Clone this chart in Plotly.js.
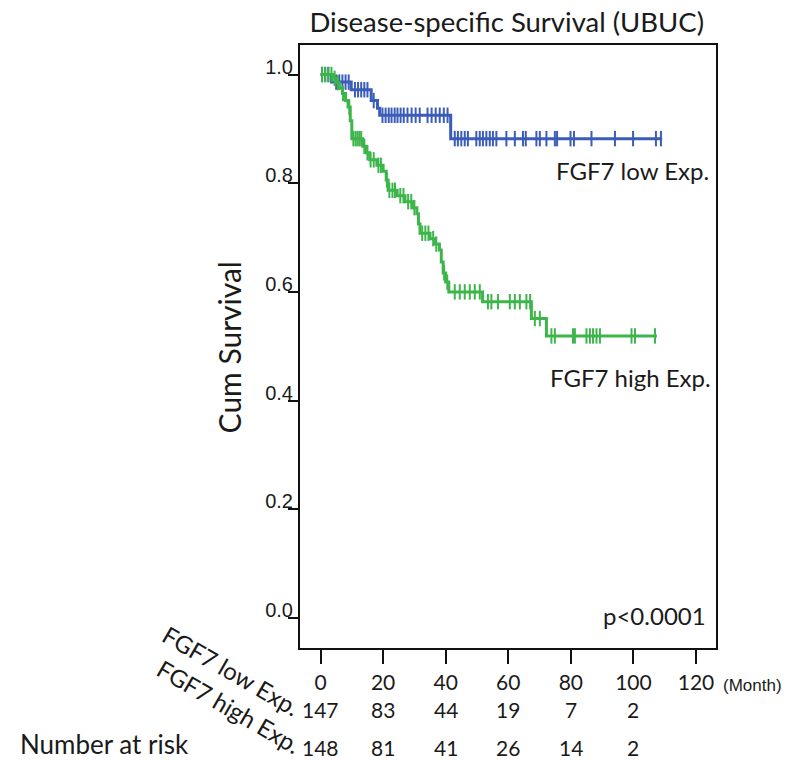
<!DOCTYPE html>
<html>
<head>
<meta charset="utf-8">
<script src="https://cdn.plot.ly/plotly-3.0.1.min.js"></script>
<style>html,body{margin:0;padding:0;background:#fff;}#chart{width:796px;height:761px;}</style>
</head>
<body>
<div id="chart"></div>
<script>
// ---- Data ----
const lowTimes = [0, 3.5, 9.8, 16.2, 18.2, 18.9, 41.6];
const lowSurv  = [1.0, 0.986, 0.972, 0.952, 0.938, 0.925, 0.882];
const lowEnd = 109.2;
const lowCensor = [0.5, 1.5, 2.5, 5, 6, 7, 8, 9, 11, 12, 13, 14, 15, 17,
  19.8, 20.8, 21.8, 22.7, 23.7, 24.6, 25.6, 26.6, 27.8, 29.1, 30.4, 31.7, 34.2, 35.5, 36.8, 38.1, 39.4, 40.6,
  42.9, 43.9, 45.0, 46.1, 47.1, 49.8, 50.9, 51.9, 53.0, 54.1, 55.1, 56.2, 59.4, 62.1, 64.7, 65.6,
  69.0, 70.1, 72.2, 74.9, 75.6, 79.9, 81.0, 86.6, 94.1, 99.9, 107.2, 108.8];

const highTimes = [0, 4, 5, 6, 7, 8, 8.8, 9.5, 10, 13.5, 14.5, 15.7, 18, 20, 21, 21.6, 24.5, 27, 29.5, 30.8, 31.3, 31.8, 35, 36.5, 38, 38.6, 39.2, 40, 41, 51.8, 67.4, 72.2];
const highSurv  = [1.0, 0.993, 0.985, 0.975, 0.965, 0.952, 0.94, 0.915, 0.882, 0.868, 0.856, 0.843, 0.833, 0.822, 0.806, 0.787, 0.777, 0.766, 0.755, 0.744, 0.725, 0.708, 0.698, 0.688, 0.677, 0.655, 0.635, 0.618, 0.600, 0.582, 0.551, 0.519];
const highEnd = 107.5;
const highCensor = [0.5, 1.5, 2.5, 3.5, 4.5, 5.5, 7.2, 9.2, 10.5, 11.2, 11.8, 12.4, 13, 14, 15, 16, 17, 18.5, 19.3, 21.2, 22, 23, 23.8,
  25.5, 26.5, 28, 29, 30, 32.5, 33.5, 34.5, 36, 37, 39.5, 40.5,
  42.9, 44.5, 46.1, 47.7, 49.3, 50.9, 53.5, 54.6, 56.7, 60.5, 62.1, 63.7, 65.8, 67.0,
  68.5, 70.1, 73.8, 74.9, 80.7, 81.3, 85, 86.1, 87.1, 88.2, 89.3, 99.4, 100.5, 106.9];

const monthTicks = [0, 20, 40, 60, 80, 100, 120];
const survTicks = [0, 0.2, 0.4, 0.6, 0.8, 1.0];
const survTickText = ['0.0', '0.2', '0.4', '0.6', '0.8', '1.0'];
const riskMonths = [0, 20, 40, 60, 80, 100];
const riskLow  = [147, 83, 44, 19, 7, 2];
const riskHigh = [148, 81, 41, 26, 14, 2];
const groupLow = 'FGF7 low Exp.';
const groupHigh = 'FGF7 high Exp.';

// ---- helpers ----
function stepAt(times, surv, t) {
  let v = surv[0];
  for (let i = 0; i < times.length; i++) { if (times[i] <= t) v = surv[i]; }
  return v;
}
const BLUE = '#3B5CB8';
const GREEN = '#3DB54B';
const TXT = '#1a1a1a';
const SANS = 'Lato, "Open Sans", sans-serif';
const ARIAL = '"Liberation Sans", Arial, sans-serif';

function curve(times, surv, end, color) {
  return {
    x: times.concat([end]), y: surv.concat([surv[surv.length - 1]]),
    mode: 'lines', line: {shape: 'hv', color: color, width: 3},
    hoverinfo: 'skip', cliponaxis: false
  };
}
function censor(times, surv, cens, color) {
  return {
    x: cens, y: cens.map(t => stepAt(times, surv, t)),
    mode: 'markers',
    marker: {symbol: 'line-ns-open', size: 11, color: color, line: {color: color, width: 2}},
    hoverinfo: 'skip', cliponaxis: false
  };
}

const traces = [
  curve(lowTimes, lowSurv, lowEnd, BLUE),
  censor(lowTimes, lowSurv, lowCensor, BLUE),
  curve(highTimes, highSurv, highEnd, GREEN),
  censor(highTimes, highSurv, highCensor, GREEN)
];

// plot area geometry: left 300.5px, width 415.5px, bottom 648px, top 45px
const PL = 300.5, PW = 415.5;
const PB = 648, PT = 45, PH = PB - PT;
const py = p => (PB - p) / PH;
const px = p => (p - PL) / PW;

const annotations = [];
riskMonths.forEach((m, i) => {
  annotations.push({x: m, y: py(709), xref: 'x', yref: 'paper', text: String(riskLow[i]),
    showarrow: false, xanchor: 'center', yanchor: 'middle', font: {family: SANS, size: 21, color: TXT}});
  annotations.push({x: m, y: py(747), xref: 'x', yref: 'paper', text: String(riskHigh[i]),
    showarrow: false, xanchor: 'center', yanchor: 'middle', font: {family: SANS, size: 21, color: TXT}});
});
annotations.push(
  {x: px(721), y: py(685), xref: 'paper', yref: 'paper', text: '(Month)', showarrow: false,
   xanchor: 'left', yanchor: 'middle', font: {family: ARIAL, size: 17, color: TXT}},
  {x: px(232), y: py(670), xref: 'paper', yref: 'paper', text: groupLow, textangle: 30,
   showarrow: false, xanchor: 'center', yanchor: 'middle', font: {family: SANS, size: 24, color: TXT}},
  {x: px(230), y: py(706), xref: 'paper', yref: 'paper', text: groupHigh, textangle: 30,
   showarrow: false, xanchor: 'center', yanchor: 'middle', font: {family: SANS, size: 24, color: TXT}},
  {x: px(19), y: py(744), xref: 'paper', yref: 'paper', text: 'Number at risk',
   showarrow: false, xanchor: 'left', yanchor: 'middle', font: {family: SANS, size: 26, color: TXT}},
  {x: px(230), y: py(347), xref: 'paper', yref: 'paper', text: 'Cum Survival', textangle: -90,
   showarrow: false, xanchor: 'center', yanchor: 'middle', font: {family: SANS, size: 30, color: TXT}},
  {x: px(711), y: 0.824, xref: 'paper', yref: 'y', text: groupLow, showarrow: false,
   xanchor: 'right', yanchor: 'middle', font: {family: SANS, size: 24, color: TXT}},
  {x: px(713), y: 0.442, xref: 'paper', yref: 'y', text: groupHigh, showarrow: false,
   xanchor: 'right', yanchor: 'middle', font: {family: SANS, size: 24, color: TXT}},
  {x: px(708), y: 0.004, xref: 'paper', yref: 'y', text: 'p&lt;0.0001', showarrow: false,
   xanchor: 'right', yanchor: 'middle', font: {family: SANS, size: 24, color: TXT}}
);

const layout = {
  width: 796, height: 761,
  margin: {l: 300, r: 80, t: PT, b: 761 - PB, pad: 0},
  paper_bgcolor: '#fff', plot_bgcolor: '#fff',
  showlegend: false,
  title: {text: 'Disease-specific Survival (UBUC)', xref: 'paper', x: px(507), xanchor: 'center',
          yref: 'container', y: 1 - 22 / 761, yanchor: 'middle',
          font: {family: SANS, size: 27.5, color: TXT}},
  xaxis: {range: [-6.56, 126.4], tickvals: monthTicks, ticktext: monthTicks.map(String),
          ticks: 'outside', ticklen: 14, tickwidth: 2, tickcolor: '#111',
          showline: true, mirror: true, linecolor: '#111', linewidth: 2,
          showgrid: false, zeroline: false, ticklabelstandoff: 1,
          tickfont: {family: SANS, size: 21, color: TXT}},
  yaxis: {range: [-0.0552, 1.0543], tickvals: survTicks, ticktext: survTickText,
          ticks: 'outside', ticklen: 10, tickwidth: 2, tickcolor: '#111',
          showline: true, mirror: true, linecolor: '#111', linewidth: 2,
          showgrid: false, zeroline: false, ticklabelshift: -8, ticklabelstandoff: -9,
          tickfont: {family: ARIAL, size: 20, color: TXT}},
  annotations: annotations
};

Plotly.newPlot('chart', traces, layout, {staticPlot: true, displayModeBar: false});
</script>
</body>
</html>
